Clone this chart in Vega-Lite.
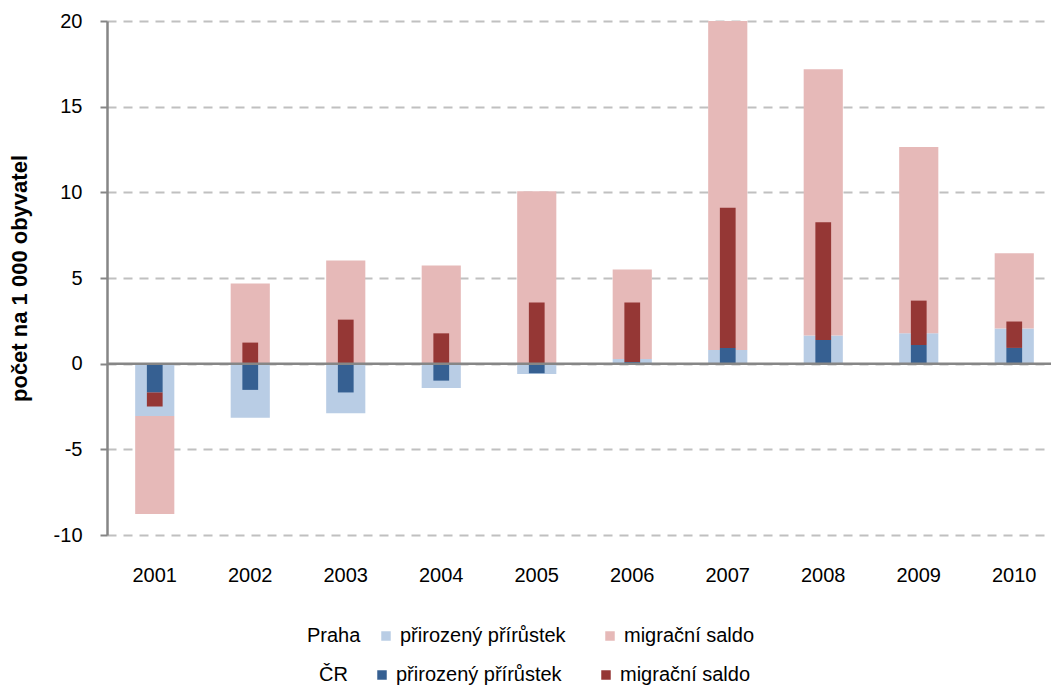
{
  "$schema": "https://vega.github.io/schema/vega-lite/v6.json",
  "autosize": {"type": "none"},
  "width": 944,
  "height": 514,
  "padding": {"left": 107, "top": 21, "right": 0, "bottom": 154},
  "background": "white",
  "config": {
    "view": {"stroke": null},
    "font": "Liberation Sans",
    "axis": {"labelFont": "Liberation Sans", "titleFont": "Liberation Sans", "labelColor": "black", "titleColor": "black"},
    "legend": {"labelFont": "Liberation Sans", "titleFont": "Liberation Sans", "labelColor": "black", "titleColor": "black"}
  },
  "data": {
    "values": [
      {"year": "2001", "region": "Praha", "series": "přirozený přírůstek", "ord": 1, "value": -3.05},
      {"year": "2001", "region": "Praha", "series": "migrační saldo", "ord": 2, "value": -5.73},
      {"year": "2002", "region": "Praha", "series": "přirozený přírůstek", "ord": 1, "value": -3.16},
      {"year": "2002", "region": "Praha", "series": "migrační saldo", "ord": 2, "value": 4.68},
      {"year": "2003", "region": "Praha", "series": "přirozený přírůstek", "ord": 1, "value": -2.9},
      {"year": "2003", "region": "Praha", "series": "migrační saldo", "ord": 2, "value": 6.02},
      {"year": "2004", "region": "Praha", "series": "přirozený přírůstek", "ord": 1, "value": -1.42},
      {"year": "2004", "region": "Praha", "series": "migrační saldo", "ord": 2, "value": 5.73},
      {"year": "2005", "region": "Praha", "series": "přirozený přírůstek", "ord": 1, "value": -0.6},
      {"year": "2005", "region": "Praha", "series": "migrační saldo", "ord": 2, "value": 10.06},
      {"year": "2006", "region": "Praha", "series": "přirozený přírůstek", "ord": 1, "value": 0.27},
      {"year": "2006", "region": "Praha", "series": "migrační saldo", "ord": 2, "value": 5.23},
      {"year": "2007", "region": "Praha", "series": "přirozený přírůstek", "ord": 1, "value": 0.8},
      {"year": "2007", "region": "Praha", "series": "migrační saldo", "ord": 2, "value": 19.2},
      {"year": "2008", "region": "Praha", "series": "přirozený přírůstek", "ord": 1, "value": 1.64},
      {"year": "2008", "region": "Praha", "series": "migrační saldo", "ord": 2, "value": 15.55},
      {"year": "2009", "region": "Praha", "series": "přirozený přírůstek", "ord": 1, "value": 1.77},
      {"year": "2009", "region": "Praha", "series": "migrační saldo", "ord": 2, "value": 10.88},
      {"year": "2010", "region": "Praha", "series": "přirozený přírůstek", "ord": 1, "value": 2.05},
      {"year": "2010", "region": "Praha", "series": "migrační saldo", "ord": 2, "value": 4.4},
      {"year": "2001", "region": "ČR", "series": "přirozený přírůstek", "ord": 1, "value": -1.68},
      {"year": "2001", "region": "ČR", "series": "migrační saldo", "ord": 2, "value": -0.82},
      {"year": "2002", "region": "ČR", "series": "přirozený přírůstek", "ord": 1, "value": -1.53},
      {"year": "2002", "region": "ČR", "series": "migrační saldo", "ord": 2, "value": 1.23},
      {"year": "2003", "region": "ČR", "series": "přirozený přírůstek", "ord": 1, "value": -1.68},
      {"year": "2003", "region": "ČR", "series": "migrační saldo", "ord": 2, "value": 2.57},
      {"year": "2004", "region": "ČR", "series": "přirozený přírůstek", "ord": 1, "value": -0.99},
      {"year": "2004", "region": "ČR", "series": "migrační saldo", "ord": 2, "value": 1.77},
      {"year": "2005", "region": "ČR", "series": "přirozený přírůstek", "ord": 1, "value": -0.56},
      {"year": "2005", "region": "ČR", "series": "migrační saldo", "ord": 2, "value": 3.57},
      {"year": "2006", "region": "ČR", "series": "přirozený přírůstek", "ord": 1, "value": 0.1},
      {"year": "2006", "region": "ČR", "series": "migrační saldo", "ord": 2, "value": 3.47},
      {"year": "2007", "region": "ČR", "series": "přirozený přírůstek", "ord": 1, "value": 0.92},
      {"year": "2007", "region": "ČR", "series": "migrační saldo", "ord": 2, "value": 8.18},
      {"year": "2008", "region": "ČR", "series": "přirozený přírůstek", "ord": 1, "value": 1.38},
      {"year": "2008", "region": "ČR", "series": "migrační saldo", "ord": 2, "value": 6.87},
      {"year": "2009", "region": "ČR", "series": "přirozený přírůstek", "ord": 1, "value": 1.09},
      {"year": "2009", "region": "ČR", "series": "migrační saldo", "ord": 2, "value": 2.59},
      {"year": "2010", "region": "ČR", "series": "přirozený přírůstek", "ord": 1, "value": 0.92},
      {"year": "2010", "region": "ČR", "series": "migrační saldo", "ord": 2, "value": 1.54}
    ]
  },
  "encoding": {
    "x": {
      "field": "year",
      "type": "nominal",
      "scale": {"range": [0, 955], "paddingInner": 0, "paddingOuter": 0},
      "axis": {
        "title": null,
        "labelAngle": 0,
        "labelFontSize": 20,
        "labelPadding": 30,
        "domain": false,
        "ticks": false,
        "grid": false
      }
    }
  },
  "layer": [
    {
      "transform": [{"filter": "datum.region === 'Praha'"}],
      "mark": {"type": "bar", "width": {"band": 0.41}},
      "encoding": {
        "y": {
          "field": "value",
          "type": "quantitative",
          "stack": "zero",
          "scale": {"domain": [-10, 20], "nice": false, "zero": false},
          "axis": {
            "title": "počet na 1 000 obyvatel",
            "titleFontSize": 22,
            "titleFontWeight": "bold",
            "titlePadding": 22,
            "values": [-10, -5, 0, 5, 10, 15, 20],
            "labelExpr": "'' + datum.value",
            "labelFontSize": 20,
            "labelPadding": 18,
            "tickSize": 7,
            "tickColor": "#868686",
            "tickWidth": 2,
            "domainColor": "#868686",
            "domainWidth": 2.5,
            "grid": true,
            "gridColor": "#c0c0c0",
            "gridWidth": 2,
            "gridDash": [9, 7]
          }
        },
        "order": {"field": "ord", "type": "quantitative"},
        "color": {
          "field": "series",
          "type": "nominal",
          "scale": {"domain": ["přirozený přírůstek", "migrační saldo"], "range": ["#b9cde5", "#e6b9b8"]},
          "legend": {
            "title": "Praha",
            "orient": "none",
            "legendX": 200,
            "legendY": 605,
            "direction": "horizontal",
            "columns": 2,
            "titleOrient": "left",
            "titleFontSize": 20,
            "titleFontWeight": "normal",
            "titlePadding": 15,
            "labelFontSize": 20,
            "labelLimit": 300,
            "labelOffset": 4,
            "columnPadding": 34,
            "symbolType": "square",
            "symbolSize": 90,
            "symbolStrokeWidth": 0
          }
        }
      }
    },
    {
      "transform": [{"filter": "datum.region === 'ČR'"}],
      "mark": {"type": "bar", "width": {"band": 0.165}},
      "encoding": {
        "y": {"field": "value", "type": "quantitative", "stack": "zero"},
        "order": {"field": "ord", "type": "quantitative"},
        "color": {
          "field": "series",
          "type": "nominal",
          "scale": {"domain": ["přirozený přírůstek", "migrační saldo"], "range": ["#366092", "#953735"]},
          "legend": {
            "title": "ČR",
            "orient": "none",
            "legendX": 212,
            "legendY": 644,
            "direction": "horizontal",
            "columns": 2,
            "titleOrient": "left",
            "titleFontSize": 20,
            "titleFontWeight": "normal",
            "titlePadding": 24,
            "labelFontSize": 20,
            "labelLimit": 300,
            "labelOffset": 4,
            "columnPadding": 34,
            "symbolType": "square",
            "symbolSize": 90,
            "symbolStrokeWidth": 0
          }
        }
      }
    },
    {
      "data": {"values": [{"zero": 0}]},
      "mark": {"type": "rule", "color": "#868686", "strokeWidth": 2.5},
      "encoding": {
        "y": {"field": "zero", "type": "quantitative"},
        "x": null
      }
    }
  ],
  "resolve": {"scale": {"color": "independent"}, "legend": {"color": "independent"}}
}
